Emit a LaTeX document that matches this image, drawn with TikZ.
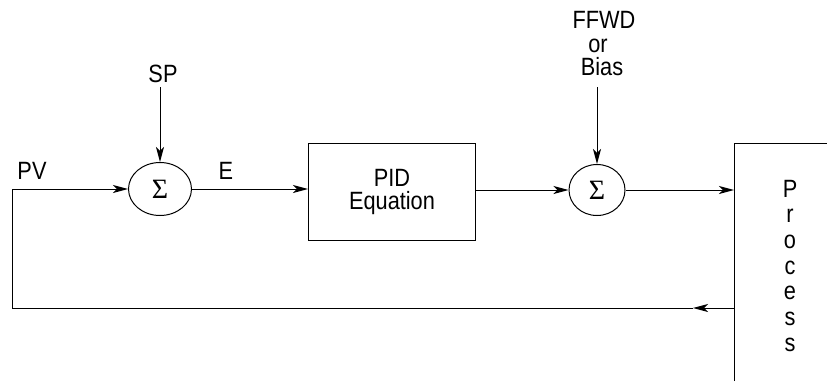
\documentclass[tikz,border=0pt]{standalone}
\usepackage{fontspec}
\setmainfont[FakeStretch=0.87]{Liberation Sans}
\newfontfamily\sigfont{Liberation Serif}
\usetikzlibrary{arrows.meta,shapes.geometric}
\begin{document}
\begin{tikzpicture}[x=1pt,y=-1pt,line width=1pt,
  lbl/.style={font=\fontsize{25}{27}\selectfont,inner sep=0pt,anchor=base},
  sumnode/.style={ellipse,draw,inner sep=0pt,font=\sigfont\fontsize{28}{30}\selectfont},
  blk/.style={draw,minimum width=167pt,minimum height=97pt,align=center,inner sep=0pt,font=\fontsize{25}{23}\selectfont},
  arr/.style={-{Stealth[length=15pt,width=8pt,inset=4pt]}}]
\useasboundingbox (0,0) rectangle (827,381);
% summing junctions and PID block
\node[sumnode,minimum width=63pt,minimum height=53pt] (sum1) at (160,189) {Σ};
\node[blk] (pid) at (392,192) {PID\\Equation};
\node[sumnode,minimum width=56pt,minimum height=51pt] (sum2) at (597,190) {Σ};
% labels
\node[lbl] (sp) at (163,82) {SP};
\node[lbl] (pv) at (32,179) {PV};
\node[lbl] (e) at (226,179) {E};
\node[lbl] (ffwd) at (604,28) {FFWD};
\node[lbl] (or) at (598,52) {or};
\node[lbl] (bias) at (602,75) {Bias};
% process block (open to the right and bottom)
\coordinate (procTL) at (734,143);
\coordinate (procTR) at (827,143);
\coordinate (procBL) at (734,381);
\draw (procBL) -- (procTL) -- (procTR);
\foreach \l [count=\i from 0] in {P,r,o,c,e,s,s}
  \node[lbl] (pl\i) at (790,197+25.7*\i) {\l};
% connectors
\coordinate (spS) at (160,87);
\coordinate (ffS) at (597,87);
\draw[arr] (spS) -- (sum1.north);
\draw[arr] (ffS) -- (sum2.north);
\draw[arr] (sum1.east) -- (sum1.east -| pid.west);
\draw[arr] (pid.east |- sum2) -- (sum2.west);
\draw[arr] (sum2.east) -- (sum2.east -| procTL);
\coordinate (fbP) at (734,308);
\coordinate (fbTip) at (693,308);
\coordinate (fbL) at (12,308);
\coordinate (pvC) at (12,189);
\draw[arr] (fbP) -- (fbTip);
\draw (fbTip) -- (fbL) -- (pvC);
\draw[arr] (pvC) -- (sum1.west);
\end{tikzpicture}
\end{document}
